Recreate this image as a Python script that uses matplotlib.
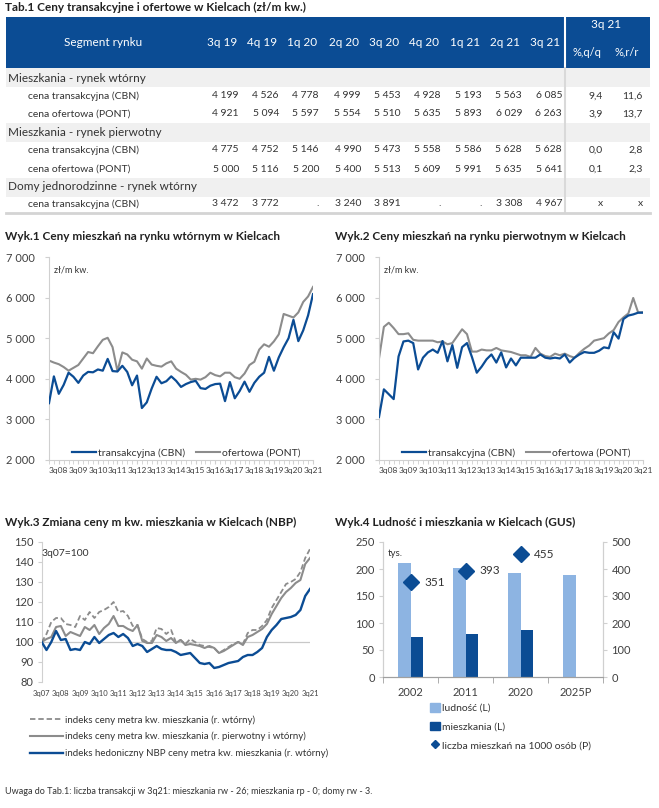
import numpy as np
import matplotlib.pyplot as plt
from matplotlib.patches import Rectangle
from matplotlib.lines import Line2D
from matplotlib.ticker import FuncFormatter, FixedLocator

plt.rcParams['font.family'] = ['Lato', 'DejaVu Sans']

W, H = 659, 808
BLUE = '#0b4c94'
LIGHT = '#8db4e2'
GREY = '#8c8c8c'
TXT = '#333333'
SPINE = '#d0d0d0'

# ---- Tab.1 data
quarters = ['3q 19', '4q 19', '1q 20', '2q 20', '3q 20', '4q 20', '1q 21', '2q 21', '3q 21']
sections = ['Mieszkania - rynek wtórny', 'Mieszkania - rynek pierwotny',
            'Domy jednorodzinne - rynek wtórny']
wt_cbn = [4199, 4526, 4778, 4999, 5453, 4928, 5193, 5563, 6085]
wt_pont = [4921, 5094, 5597, 5554, 5510, 5635, 5893, 6029, 6263]
pi_cbn = [4775, 4752, 5146, 4990, 5473, 5558, 5586, 5628, 5628]
pi_pont = [5000, 5116, 5200, 5400, 5513, 5609, 5991, 5635, 5641]
domy_cbn = [3472, 3772, None, 3240, 3891, None, None, 3308, 4967]
pct_qq = [9.4, 3.9, 0.0, 0.1, None]
pct_rr = [11.6, 13.7, 2.8, 2.3, None]

# ---- Wyk.1 / Wyk.2 data (1q08 .. 2q19, then the quarters of Tab.1)
x_labels_1 = ['3q08', '3q09', '3q10', '3q11', '3q12', '3q13', '3q14',
              '3q15', '3q16', '3q17', '3q18', '3q19', '3q20', '3q21']
wt_cbn_hist = [3400, 4060, 3630, 3850, 4150, 4050, 3900, 4080, 4170, 4160,
               4230, 4200, 4490, 4190, 4180, 4320, 4170, 3840, 4080, 3280,
               3420, 3760, 4050, 3890, 3940, 4060, 3950, 3800, 3870, 3920,
               3950, 3770, 3750, 3830, 3870, 3880, 3450, 3920, 3520, 3700,
               3930, 3680, 3900, 4050, 4150, 4540]
wt_pont_hist = [4450, 4400, 4360, 4290, 4200, 4270, 4340, 4500, 4660, 4630,
                4800, 4960, 5010, 4780, 4190, 4650, 4600, 4470, 4430, 4250,
                4500, 4350, 4320, 4300, 4380, 4430, 4250, 4170, 4100, 3980,
                4000, 3980, 4040, 4150, 4090, 4060, 4150, 4150, 4040, 4000,
                4130, 4340, 4420, 4720, 4850, 4790]
pi_cbn_hist = [3060, 3740, 3620, 3500, 4550, 4920, 4940, 4880, 4230, 4520,
               4650, 4720, 4640, 4930, 4430, 4830, 4270, 4780, 4880, 4540,
               4150, 4300, 4480, 4600, 4400, 4650, 4280, 4500, 4330, 4520,
               4520, 4520, 4520, 4600, 4520, 4500, 4520, 4500, 4600, 4400,
               4520, 4600, 4660, 4640, 4640, 4690]
pi_pont_hist = [4500, 5280, 5380, 5250, 5100, 5100, 5120, 4960, 4940, 4940,
                4940, 4940, 4900, 4920, 4850, 4880, 5050, 5220, 5100, 4670,
                4670, 4720, 4700, 4700, 4760, 4700, 4680, 4660, 4620, 4580,
                4580, 4540, 4760, 4620, 4560, 4540, 4620, 4580, 4620, 4560,
                4520, 4640, 4740, 4820, 4940, 4970]

# ---- Wyk.3 data (3q07 .. 3q21, 3q07=100)
x_labels_3 = ['3q07', '3q08', '3q09', '3q10', '3q11', '3q12', '3q13', '3q14',
              '3q15', '3q16', '3q17', '3q18', '3q19', '3q20', '3q21']
idx_wt = [100, 104, 110, 112, 112, 109, 108.5, 107.5, 113, 111,
          115, 112, 115, 116, 117.5, 120, 115, 115.5, 113, 108,
          108.5, 101.5, 100, 100.5, 107, 106.5, 104, 106, 100, 101,
          99, 101.5, 100, 98.5, 98, 97.5, 97, 94.5, 96, 97.5,
          99, 100, 99, 104.5, 106, 106, 108, 111, 117, 121,
          125, 129, 130, 131.5, 135, 142, 146.5]
idx_all = [100, 101.5, 102.5, 107.5, 108, 103, 105, 104, 103, 107.5,
           106, 108.5, 104, 107, 109, 113, 108, 108, 106.5, 105.5,
           108.5, 100.5, 99.5, 99.5, 103.5, 102.5, 100.5, 102, 99.5, 101,
           98.5, 99, 98.5, 98, 97, 98, 97, 94.5, 95.5, 97,
           98.5, 100, 98.5, 102.5, 103.5, 105, 106.5, 109, 114, 118,
           122, 125, 127, 129.5, 131, 139, 142]
idx_hed = [100, 96, 100, 105.5, 101, 101.5, 96, 96.5, 96, 100,
           99, 102.5, 99.5, 101.5, 103.5, 104.5, 102.5, 104, 102, 98,
           99, 98, 95, 96.5, 98, 96.5, 96, 96, 95, 93.5,
           94, 94.5, 92, 89.5, 89, 89.5, 87, 87.5, 88.5, 89.5,
           90, 90.5, 92.5, 93.5, 93.5, 95, 97, 102.5, 106, 108.5,
           111.5, 112, 112.5, 113.5, 116, 123, 126.5]

# ---- Wyk.4 data
years = ['2002', '2011', '2020', '2025P']
ludnosc = [211, 201, 193, 188]
mieszkania = [74, 79, 87, np.nan]
per1000 = [351, 393, 455]


def px_axes(l, t, r, b):
    ax = fig.add_axes([l / W, 1 - b / H, (r - l) / W, (b - t) / H])
    ax.set_facecolor('none')
    return ax


def fmt_num(v):
    return '.' if v is None else f'{v:,}'.replace(',', ' ')


def fmt_pct(v):
    return 'x' if v is None else f'{v:.1f}'.replace('.', ',')


def thousands(v, pos):
    return f'{int(v):,}'.replace(',', ' ')


fig = plt.figure(figsize=(W / 100, H / 100), dpi=100)
bg = fig.add_axes([0, 0, 1, 1])
bg.set_xlim(0, W)
bg.set_ylim(H, 0)
bg.axis('off')

# ---------------- Tab.1
bg.text(5, 7, 'Tab.1 Ceny transakcyjne i ofertowe w Kielcach (zł/m kw.)',
        fontsize=8.5, fontweight='bold', color='#222222', va='center')
bg.add_patch(Rectangle((6, 17), 644, 51, color=BLUE, lw=0))
bg.plot([565, 565], [17, 68], color='white', lw=1.5)
for y0 in (68, 123, 178):
    bg.add_patch(Rectangle((6, y0), 644, 19, color='#f0f0f0', lw=0))
bg.plot([565, 565], [68, 213], color='#d9d9d9', lw=1.5)
bg.plot([6, 650], [213, 213], color='#d4d4d4', lw=2)

col_right = [239, 279, 319, 361, 401, 441, 482, 522, 562]
bg.text(103, 42, 'Segment rynku', color='white', fontsize=8.5, ha='center', va='center')
for q, xr in zip(quarters, col_right):
    bg.text(xr - 17, 42, q, color='white', fontsize=8.5, ha='center', va='center')
bg.text(606, 25, '3q 21', color='white', fontsize=8.5, ha='center', va='center')
bg.text(587, 52, '%,q/q', color='white', fontsize=8, ha='center', va='center')
bg.text(627, 52, '%,r/r', color='white', fontsize=8, ha='center', va='center')

for s, y in zip(sections, (78, 132, 187)):
    bg.text(8, y, s, fontsize=8.5, color=TXT, va='center')

body = [(96, 'cena transakcyjna (CBN)', wt_cbn, 0),
        (114, 'cena ofertowa (PONT)', wt_pont, 1),
        (150, 'cena transakcyjna (CBN)', pi_cbn, 2),
        (169, 'cena ofertowa (PONT)', pi_pont, 3),
        (204, 'cena transakcyjna (CBN)', domy_cbn, 4)]
for y, lab, vals, k in body:
    bg.text(28, y, lab, fontsize=7.5, color=TXT, va='center')
    for v, xr in zip(vals, col_right):
        bg.text(xr, y, fmt_num(v), fontsize=7.5, color=TXT, va='center', ha='right')
    bg.text(603, y, fmt_pct(pct_qq[k]), fontsize=7.5, color=TXT, va='center', ha='right')
    bg.text(643, y, fmt_pct(pct_rr[k]), fontsize=7.5, color=TXT, va='center', ha='right')


# ---------------- Wyk.1 and Wyk.2
def price_chart(left, cbn, pont, title):
    bg.text(left - 44, 237, title, fontsize=8.5, fontweight='bold', color='#222222', va='center')
    ax = px_axes(left, 257, left + 264, 460)
    x = np.arange(len(cbn))
    ax.plot(x, pont, color=GREY, lw=1.5, label='ofertowa (PONT)', zorder=2)
    ax.plot(x, cbn, color=BLUE, lw=1.6, label='transakcyjna (CBN)', zorder=3)
    ax.set_xlim(0, len(cbn) - 1)
    ax.set_ylim(2000, 7000)
    ax.set_yticks(range(2000, 7001, 1000))
    ax.yaxis.set_major_formatter(FuncFormatter(thousands))
    ax.xaxis.set_major_locator(FixedLocator([2 + 4 * k for k in range(len(x_labels_1))]))
    ax.set_xticklabels(x_labels_1)
    ax.xaxis.set_minor_locator(FixedLocator(x))
    for s in ('top', 'right'):
        ax.spines[s].set_visible(False)
    for s in ('left', 'bottom'):
        ax.spines[s].set_color(SPINE)
    ax.tick_params(axis='y', length=3, color=SPINE, pad=7, labelsize=8, labelcolor='#404040')
    ax.tick_params(axis='x', which='both', length=3, color=SPINE, pad=2,
                   labelsize=6, labelcolor='#404040')
    h, l = ax.get_legend_handles_labels()
    ax.legend(h[::-1], l[::-1], loc='lower center', bbox_to_anchor=(0.52, -0.015), ncol=2,
              frameon=False, fontsize=7.5, handlelength=2.3, handletextpad=0.15,
              columnspacing=1.1, borderpad=0, labelcolor='#333333')
    ax.text(0.02, 0.96, 'zł/m kw.', transform=ax.transAxes, fontsize=6.5,
            color='#333333', va='top')
    return ax


price_chart(49, wt_cbn_hist + wt_cbn, wt_pont_hist + wt_pont,
            'Wyk.1 Ceny mieszkań na rynku wtórnym w Kielcach')
price_chart(379, pi_cbn_hist + pi_cbn, pi_pont_hist + pi_pont,
            'Wyk.2 Ceny mieszkań na rynku pierwotnym w Kielcach')

# ---------------- Wyk.3
bg.text(5, 522, 'Wyk.3 Zmiana ceny m kw. mieszkania w Kielcach (NBP)',
        fontsize=8.5, fontweight='bold', color='#222222', va='center')
ax3 = px_axes(41.7, 542, 310, 682)
x3 = np.arange(len(idx_wt))
ax3.axhline(100, color='#c8c8c8', lw=0.9, zorder=1)
ax3.plot(x3, idx_wt, color=GREY, lw=1.3, dashes=(3, 1.6),
         label='indeks ceny metra kw. mieszkania (r. wtórny)', zorder=3)
ax3.plot(x3, idx_all, color=GREY, lw=1.5,
         label='indeks ceny metra kw. mieszkania (r. pierwotny i wtórny)', zorder=2)
ax3.plot(x3, idx_hed, color=BLUE, lw=1.7,
         label='indeks hedoniczny NBP ceny metra kw. mieszkania (r. wtórny)', zorder=4)
ax3.set_xlim(0, len(idx_wt) - 1)
ax3.set_ylim(80, 150)
ax3.set_yticks(range(80, 151, 10))
ax3.set_xticks([4 * k for k in range(len(x_labels_3))])
ax3.set_xticklabels(x_labels_3)
for s in ('top', 'right', 'bottom'):
    ax3.spines[s].set_visible(False)
ax3.spines['left'].set_color(SPINE)
ax3.tick_params(axis='y', length=3, color=SPINE, pad=3, labelsize=8, labelcolor='#404040')
ax3.tick_params(axis='x', length=0, pad=6, labelsize=5.5, labelcolor='#404040')
ax3.text(0.0, 0.92, '3q07=100', transform=ax3.transAxes, fontsize=7.5,
         color='#333333', va='center')
ax3.legend(loc='upper left', bbox_to_anchor=(30 / W, 1 - 715 / H),
           bbox_transform=fig.transFigure, frameon=False, fontsize=7,
           handlelength=3.4, handletextpad=0.15, labelspacing=0.75, borderpad=0,
           borderaxespad=0, labelcolor='#333333')

# ---------------- Wyk.4
bg.text(335, 522, 'Wyk.4 Ludność i mieszkania w Kielcach (GUS)',
        fontsize=8.5, fontweight='bold', color='#222222', va='center')
ax4 = px_axes(383, 542, 603, 677)
x4 = np.arange(len(years))
ax4.bar(x4 - 0.115, ludnosc, width=0.23, color=LIGHT, label='ludność (L)')
ax4.bar(x4 + 0.11, mieszkania, width=0.22, color=BLUE, label='mieszkania (L)')
ax4.set_xlim(-0.5, len(years) - 0.5)
ax4.set_ylim(0, 250)
ax4.set_yticks(range(0, 251, 50))
ax4.set_xticks(x4)
ax4.set_xticklabels(years)
ax4.xaxis.set_minor_locator(FixedLocator(np.arange(len(years) + 1) - 0.5))
ax4r = ax4.twinx()
ax4r.set_facecolor('none')
ax4r.plot(x4[:len(per1000)], per1000, 'D', color=BLUE, ms=8, ls='none')
for xi, v in zip(x4, per1000):
    ax4r.annotate(str(v), (xi, v), xytext=(10, 0), textcoords='offset points',
                  va='center', fontsize=8.5, color='#333333')
ax4r.set_ylim(0, 500)
ax4r.set_yticks(range(0, 501, 100))
for a in (ax4, ax4r):
    a.spines['top'].set_visible(False)
    for s in ('left', 'right'):
        a.spines[s].set_color(SPINE)
    a.spines['bottom'].set_color('#a0a0a0')
    a.tick_params(axis='y', length=3, color=SPINE, pad=3, labelsize=8, labelcolor='#404040')
ax4.tick_params(axis='x', which='major', length=0, pad=7, labelsize=8, labelcolor='#404040')
ax4.tick_params(axis='x', which='minor', length=4, color='#a0a0a0')
ax4.text(0.02, 0.95, 'tys.', transform=ax4.transAxes, fontsize=7, color='#333333', va='top')
h4 = [Rectangle((0, 0), 1, 1, color=LIGHT), Rectangle((0, 0), 1, 1, color=BLUE),
      Line2D([], [], marker='D', color=BLUE, ls='none', ms=4)]
ax4.legend(h4, ['ludność (L)', 'mieszkania (L)', 'liczba mieszkań na 1000 osób (P)'],
           loc='upper left', bbox_to_anchor=(430 / W, 1 - 703 / H),
           bbox_transform=fig.transFigure, frameon=False, fontsize=7.5,
           handlelength=1.0, handleheight=0.9, handletextpad=0.15, labelspacing=0.85,
           borderpad=0, borderaxespad=0, labelcolor='#333333')

bg.text(5, 792, 'Uwaga do Tab.1: liczba transakcji w 3q21: mieszkania rw - 26; '
        'mieszkania rp - 0; domy rw - 3.', fontsize=6.5, color='#333333', va='center')

fig.savefig('out.png', dpi=100)
